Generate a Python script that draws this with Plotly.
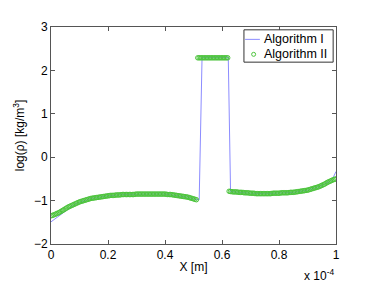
import plotly.graph_objects as go

# x in units of 1e-4 m
x_alg2 = [
    0.000, 0.005, 0.010, 0.015, 0.020, 0.025, 0.030, 0.035, 0.040, 0.045,
    0.050, 0.055, 0.060, 0.065, 0.070, 0.075, 0.080, 0.085, 0.090, 0.095,
    0.100, 0.105, 0.110, 0.115, 0.120, 0.125, 0.130, 0.135, 0.140, 0.145,
    0.150, 0.155, 0.160, 0.165, 0.170, 0.175, 0.180, 0.185, 0.190, 0.195,
    0.200, 0.205, 0.210, 0.215, 0.220, 0.225, 0.230, 0.235, 0.240, 0.245,
    0.250, 0.255, 0.260, 0.265, 0.270, 0.275, 0.280, 0.285, 0.290, 0.295,
    0.300, 0.305, 0.310, 0.315, 0.320, 0.325, 0.330, 0.335, 0.340, 0.345,
    0.350, 0.355, 0.360, 0.365, 0.370, 0.375, 0.380, 0.385, 0.390, 0.395,
    0.400, 0.405, 0.410, 0.415, 0.420, 0.425, 0.430, 0.435, 0.440, 0.445,
    0.450, 0.455, 0.460, 0.465, 0.470, 0.475, 0.480, 0.485, 0.490, 0.495,
    0.500, 0.505, 0.510,
    0.515, 0.520, 0.525, 0.530, 0.535, 0.540, 0.545, 0.550, 0.555, 0.560,
    0.565, 0.570, 0.575, 0.580, 0.585, 0.590, 0.595, 0.600, 0.605, 0.610,
    0.615, 0.620,
    0.625, 0.630, 0.635, 0.640, 0.645, 0.650, 0.655, 0.660, 0.665, 0.670,
    0.675, 0.680, 0.685, 0.690, 0.695, 0.700, 0.705, 0.710, 0.715, 0.720,
    0.725, 0.730, 0.735, 0.740, 0.745, 0.750, 0.755, 0.760, 0.765, 0.770,
    0.775, 0.780, 0.785, 0.790, 0.795, 0.800, 0.805, 0.810, 0.815, 0.820,
    0.825, 0.830, 0.835, 0.840, 0.845, 0.850, 0.855, 0.860, 0.865, 0.870,
    0.875, 0.880, 0.885, 0.890, 0.895, 0.900, 0.905, 0.910, 0.915, 0.920,
    0.925, 0.930, 0.935, 0.940, 0.945, 0.950, 0.955, 0.960, 0.965, 0.970,
    0.975, 0.980, 0.985, 0.990, 0.995, 1.000]
y_alg2 = [
    -1.35, -1.34, -1.33, -1.315, -1.30, -1.285, -1.27, -1.25, -1.23, -1.21,
    -1.19, -1.17, -1.15, -1.135, -1.12, -1.105, -1.09, -1.075, -1.06, -1.045,
    -1.03, -1.02, -1.01, -1.00, -0.99, -0.98, -0.97, -0.96, -0.95, -0.945,
    -0.94, -0.935, -0.93, -0.925, -0.92, -0.915, -0.91, -0.905, -0.90, -0.895,
    -0.89, -0.885, -0.88, -0.88, -0.88, -0.875, -0.87, -0.87, -0.87, -0.865,
    -0.86, -0.86, -0.86, -0.86, -0.86, -0.86, -0.86, -0.86, -0.86, -0.855,
    -0.85, -0.85, -0.85, -0.85, -0.85, -0.85, -0.85, -0.85, -0.85, -0.85,
    -0.85, -0.85, -0.85, -0.85, -0.85, -0.85, -0.85, -0.85, -0.85, -0.85,
    -0.85, -0.855, -0.86, -0.86, -0.86, -0.865, -0.87, -0.875, -0.88, -0.885,
    -0.89, -0.895, -0.90, -0.905, -0.91, -0.915, -0.92, -0.93, -0.94, -0.95,
    -0.96, -0.97, -0.98,
    2.29, 2.29, 2.29, 2.29, 2.29, 2.29, 2.29, 2.29, 2.29, 2.29,
    2.29, 2.29, 2.29, 2.29, 2.29, 2.29, 2.29, 2.29, 2.29, 2.29,
    2.29, 2.29,
    -0.785, -0.79, -0.795, -0.80, -0.80, -0.80, -0.805, -0.81, -0.81, -0.81,
    -0.815, -0.82, -0.82, -0.82, -0.825, -0.83, -0.83, -0.83, -0.835, -0.84,
    -0.84, -0.84, -0.84, -0.84, -0.84, -0.84, -0.84, -0.84, -0.84, -0.84,
    -0.835, -0.83, -0.83, -0.83, -0.83, -0.83, -0.825, -0.82, -0.82, -0.82,
    -0.82, -0.82, -0.815, -0.81, -0.81, -0.81, -0.805, -0.80, -0.795, -0.79,
    -0.785, -0.78, -0.775, -0.77, -0.765, -0.76, -0.75, -0.74, -0.73, -0.72,
    -0.71, -0.70, -0.69, -0.68, -0.665, -0.65, -0.635, -0.62, -0.60, -0.58,
    -0.565, -0.55, -0.535, -0.52, -0.51, -0.50]

x_alg1 = [0.00, 0.01, 0.02, 0.03, 0.04, 0.05, 0.06, 0.07, 0.08, 0.10,
          0.12, 0.14, 0.16, 0.18, 0.20, 0.25, 0.30, 0.35, 0.40, 0.43,
          0.46, 0.48, 0.50, 0.52, 0.53, 0.57, 0.622, 0.63, 0.66, 0.70,
          0.75, 0.80, 0.85, 0.90, 0.93, 0.96, 0.98, 0.99, 1.00]
y_alg1 = [-1.49, -1.44, -1.39, -1.33, -1.28, -1.23, -1.18, -1.14, -1.10, -1.04,
          -0.99, -0.95, -0.93, -0.91, -0.89, -0.86, -0.85, -0.85, -0.85, -0.87,
          -0.90, -0.92, -0.96, -0.98, 2.30, 2.30, 2.30, -0.79, -0.81, -0.83,
          -0.84, -0.83, -0.81, -0.76, -0.70, -0.62, -0.55, -0.47, -0.33]

x_ticks = [0, 0.2, 0.4, 0.6, 0.8, 1]
x_tick_text = ["0", "0.2", "0.4", "0.6", "0.8", "1"]
y_ticks = [-2, -1, 0, 1, 2, 3]
series_names = ["Algorithm I", "Algorithm II"]

font = "Liberation Sans, Arial, sans-serif"
blue = "#8c8cff"
green = "#4cc43c"

fig = go.Figure()
fig.add_trace(go.Scatter(
    x=x_alg1, y=y_alg1, mode="lines", name=series_names[0],
    line=dict(color=blue, width=1), showlegend=False,
))
fig.add_trace(go.Scatter(
    x=x_alg2, y=y_alg2, mode="markers", name=series_names[1],
    marker=dict(symbol="circle-open", size=4.5, color=green, line=dict(width=1)),
    showlegend=False,
))

axis_common = dict(
    showgrid=False, zeroline=False, showline=True, linecolor="#555555", linewidth=1,
    mirror="ticks", ticks="inside", ticklen=4, tickcolor="#555555",
    tickfont=dict(family=font, size=12, color="#000000"),
)
fig.update_xaxes(range=[0, 1], tickvals=x_ticks, ticktext=x_tick_text,
                 title=dict(text="X [m]", font=dict(family=font, size=12, color="#000"), standoff=1),
                 **axis_common)
fig.update_yaxes(range=[-2, 3], tickvals=y_ticks,
                 title=dict(text="log(ρ) [kg/m<sup>3</sup>]", font=dict(family=font, size=12, color="#000"), standoff=6),
                 **axis_common)

fig.add_annotation(x=1, y=0, xref="paper", yref="paper", xanchor="right", yanchor="top",
                   yshift=-21, text="x 10<sup>-4</sup>", showarrow=False,
                   font=dict(family=font, size=12, color="#000"))

# manual legend (MATLAB style)
fig.add_shape(type="rect", xref="paper", yref="paper", x0=0.677, x1=0.990, y0=0.838, y1=0.987,
              line=dict(color="#333333", width=1), fillcolor="white", layer="above")
fig.add_shape(type="line", xref="paper", yref="paper", x0=0.681, x1=0.733, y0=0.943, y1=0.943,
              line=dict(color=blue, width=1), layer="above")
fig.add_shape(type="circle", xref="paper", yref="paper", xsizemode="pixel", ysizemode="pixel",
              xanchor=0.711, yanchor=0.874, x0=-2, x1=2, y0=-2, y1=2,
              line=dict(color=green, width=1), layer="above")
fig.add_annotation(x=0.741, y=0.943, xref="paper", yref="paper", xanchor="left", yanchor="middle",
                   text=series_names[0], showarrow=False,
                   font=dict(family=font, size=12.5, color="#000"))
fig.add_annotation(x=0.741, y=0.874, xref="paper", yref="paper", xanchor="left", yanchor="middle",
                   text=series_names[1], showarrow=False,
                   font=dict(family=font, size=12.5, color="#000"))

fig.update_layout(
    width=363, height=276,
    margin=dict(l=40, r=35, t=12, b=36),
    paper_bgcolor="white", plot_bgcolor="white",
)

fig.write_html("out.html")
